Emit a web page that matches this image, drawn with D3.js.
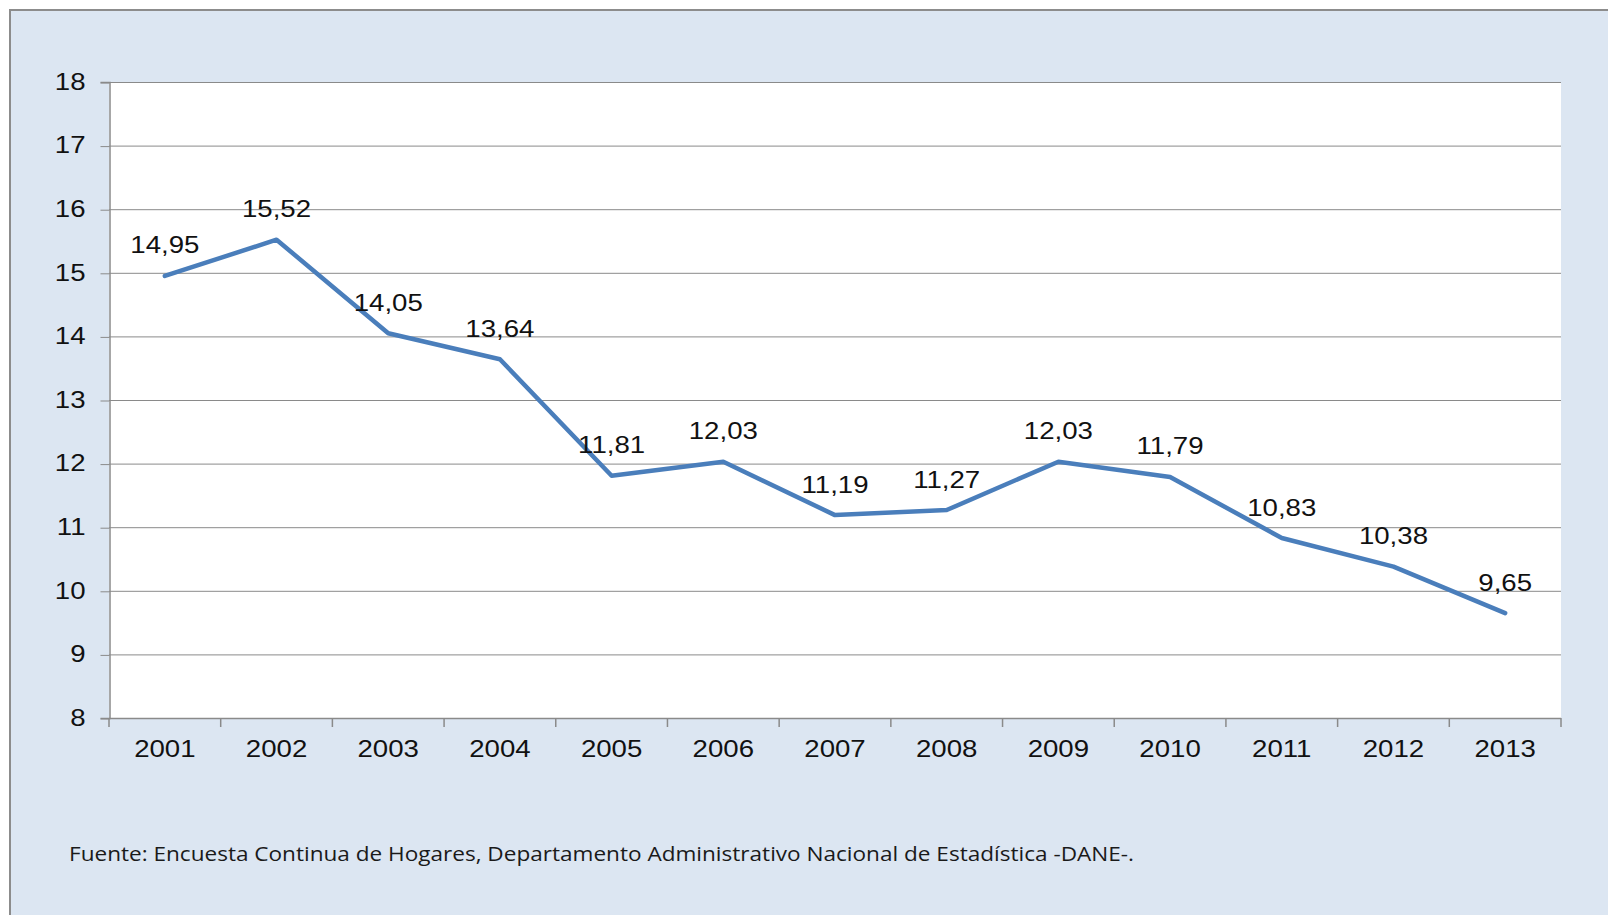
<!DOCTYPE html>
<html>
<head>
<meta charset="utf-8">
<script src="https://cdn.jsdelivr.net/npm/d3@7"></script>
<style>
  body { margin: 0; background: #fff; }
  svg { display: block; }
</style>
</head>
<body>
<svg id="chart" width="1608" height="915"></svg>
<script>
// ── Data ───────────────────────────────────────────────
const years = ['2001', '2002', '2003', '2004', '2005', '2006', '2007', '2008', '2009', '2010', '2011', '2012', '2013'];
const values = [14.95, 15.52, 14.05, 13.64, 11.81, 12.03, 11.19, 11.27, 12.03, 11.79, 10.83, 10.38, 9.65];
const yTicks = [8, 9, 10, 11, 12, 13, 14, 15, 16, 17, 18];
const source = 'Fuente: Encuesta Continua de Hogares, Departamento Administrativo Nacional de Estadística -DANE-.';

const W = 1608, H = 915;
const plot = { left: 109, top: 82, right: 1561, bottom: 718 };
const STRETCH = 1.2; // the original rendering is wider than tall

const svg = d3.select('#chart');
const fmt = v => d3.format('.2f')(v).replace('.', ',');

// stretch text horizontally to match the reference
function widen(sel, k) {
  sel.each(function () {
    const len = this.getComputedTextLength();
    d3.select(this).attr('textLength', len * k).attr('lengthAdjust', 'spacingAndGlyphs');
  });
}

// ── Frame ──────────────────────────────────────────────
svg.append('rect')
  .attr('x', 10).attr('y', 10)
  .attr('width', W).attr('height', H)
  .attr('fill', '#dce6f2')
  .attr('stroke', '#8c8c8c')
  .attr('stroke-width', 2);

svg.append('rect')
  .attr('x', plot.left).attr('y', plot.top)
  .attr('width', plot.right - plot.left).attr('height', plot.bottom - plot.top)
  .attr('fill', '#fff');

// ── Scales ─────────────────────────────────────────────
const x = d3.scaleBand().domain(years).range([plot.left, plot.right]).padding(0);
const y = d3.scaleLinear().domain([8, 18]).range([plot.bottom, plot.top]);
const cx = d => x(d) + x.bandwidth() / 2;

// gridlines
svg.append('g')
  .selectAll('line')
  .data(yTicks)
  .join('line')
  .attr('x1', plot.left).attr('x2', plot.right)
  .attr('y1', d => y(d) + 0.5).attr('y2', d => y(d) + 0.5)
  .attr('stroke', '#8a8a8a')
  .attr('stroke-width', 1);

// y axis
const yAxis = svg.append('g')
  .attr('transform', `translate(${plot.left + 0.5},0)`)
  .call(d3.axisLeft(y).tickValues(yTicks).tickSize(9).tickPadding(15).tickFormat(d3.format('d')));
yAxis.select('.domain').attr('stroke', '#8a8a8a').attr('stroke-width', 1.5);
yAxis.selectAll('.tick line').attr('stroke', '#8a8a8a').attr('transform', 'translate(0,0.5)');
yAxis.selectAll('text')
  .attr('font-family', "'Liberation Sans', Arial, sans-serif")
  .attr('font-size', 23)
  .attr('fill', '#111')
  .call(widen, STRETCH);

// x axis line + boundary ticks
const xAxis = svg.append('g');
xAxis.append('line')
  .attr('x1', plot.left).attr('x2', plot.right)
  .attr('y1', plot.bottom + 0.5).attr('y2', plot.bottom + 0.5)
  .attr('stroke', '#8a8a8a').attr('stroke-width', 1.5);
xAxis.selectAll('line.tk')
  .data(years.map(d => x(d)).concat([plot.right]))
  .join('line')
  .attr('class', 'tk')
  .attr('x1', d => d).attr('x2', d => d)
  .attr('y1', plot.bottom).attr('y2', plot.bottom + 9)
  .attr('stroke', '#8a8a8a').attr('stroke-width', 1.5);
xAxis.selectAll('text')
  .data(years)
  .join('text')
  .attr('x', cx)
  .attr('y', plot.bottom + 39)
  .attr('text-anchor', 'middle')
  .attr('font-family', "'Liberation Sans', Arial, sans-serif")
  .attr('font-size', 23)
  .attr('fill', '#111')
  .text(d => d)
  .call(widen, STRETCH);

// ── Line ───────────────────────────────────────────────
const pts = years.map((yr, i) => ({ yr, v: values[i] }));
const line = d3.line().x(d => cx(d.yr)).y(d => y(d.v));

svg.append('path')
  .datum(pts)
  .attr('d', line)
  .attr('fill', 'none')
  .attr('stroke', '#4a7ebb')
  .attr('stroke-width', 4.5)
  .attr('stroke-linejoin', 'round')
  .attr('stroke-linecap', 'round');

// data labels
svg.append('g')
  .selectAll('text')
  .data(pts)
  .join('text')
  .attr('x', d => cx(d.yr))
  .attr('y', d => y(d.v) - 22.5)
  .attr('text-anchor', 'middle')
  .attr('font-family', "'Liberation Sans', Arial, sans-serif")
  .attr('font-size', 23)
  .attr('fill', '#111')
  .text(d => fmt(d.v))
  .call(widen, STRETCH);

// ── Source ─────────────────────────────────────────────
svg.append('text')
  .attr('x', 69)
  .attr('y', 861)
  .attr('font-family', "'Open Sans', 'Noto Sans', sans-serif")
  .attr('font-size', 20)
  .attr('fill', '#1a1a1a')
  .attr('textLength', 1065)
  .attr('lengthAdjust', 'spacingAndGlyphs')
  .text(source);
</script>
</body>
</html>
